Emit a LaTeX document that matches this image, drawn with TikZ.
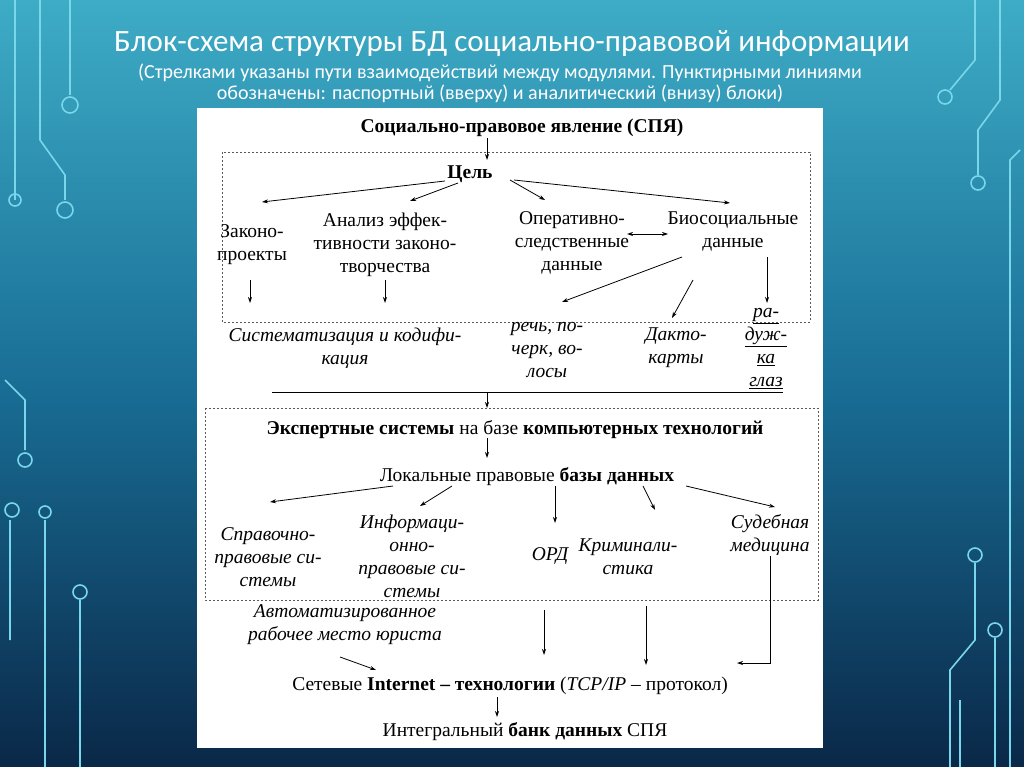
\documentclass[tikz,border=0pt]{standalone}
\usepackage{fontspec}
\setmainfont{Liberation Serif}
\newfontfamily\titlefont{Carlito}
\usetikzlibrary{arrows.meta}
\definecolor{bgtop}{RGB}{62,172,198}
\definecolor{bgmid}{RGB}{25,110,150}
\definecolor{bgbot}{RGB}{10,40,72}
\definecolor{circc}{RGB}{120,215,235}
\begin{document}
\begin{tikzpicture}[x=1pt,y=-1pt,
  txt/.style={font=\fontsize{19.5}{23}\selectfont,align=center,inner sep=0pt},
  itx/.style={txt,font=\fontsize{19.5}{23}\selectfont\itshape},
  arr/.style={-{Stealth[length=6pt,width=4pt]},line width=0.8pt},
  dbox/.style={dash pattern=on 2pt off 2pt,line width=0.6pt,gray!70!black},
  circ/.style={draw=circc,line width=1.6pt}]
\useasboundingbox (0,0) rectangle (1024,767);
\shade[top color=bgtop, bottom color=bgbot, middle color=bgmid] (0,0) rectangle (1024,767);
% circuit decorations
\draw[circ] (15,0)--(15,200) (15,200) circle (6);
\draw[circ] (40,0)--(40,140)--(65,175)--(65,200) (65,210) circle (8);
\draw[circ] (70,0)--(70,95) (70,105) circle (8);
\draw[circ] (5,380)--(25,400)--(25,450) (25,460) circle (7);
\draw[circ] (10,520)--(10,640) (12,510) circle (7);
\draw[circ] (45,520)--(45,767) (45,512) circle (6);
\draw[circ] (80,600)--(80,767) (80,592) circle (7);
\draw[circ] (975,0)--(975,60)--(950,90) (945,97) circle (7);
\draw[circ] (1000,0)--(1000,100)--(978,130)--(978,175) (978,183) circle (7);
\draw[circ] (1020,150)--(1010,160)--(1010,767);
\draw[circ] (975,555) circle (7) (975,563)--(975,640)--(950,670)--(950,767);
\draw[circ] (995,630) circle (7) (995,638)--(995,767);
\draw[circ] (960,700)--(960,767);
% title
\node[text=white,font=\titlefont\fontsize{31}{34}\selectfont] (title) at (512,44) {Блок-схема структуры БД социально-правовой информации};
\node[text=white,font=\titlefont\fontsize{20}{21}\selectfont,align=center] (sub) at (500,83) {(Стрелками указаны пути взаимодействий между модулями. Пунктирными линиями\\обозначены: паспортный (вверху) и аналитический (внизу) блоки)};
% panel
\fill[white] (197,108) rectangle (823,748);
\draw[dbox] (222,152) rectangle (810,322);
\draw[dbox] (205,408) rectangle (818,600);
\node[txt,font=\fontsize{19.5}{23}\selectfont\bfseries] (spya) at (522,128) {Социально-правовое явление (СПЯ)};
\coordinate (spyab) at (487,138);
\node[txt,font=\fontsize{19.5}{23}\selectfont\bfseries] (cel) at (470,174) {Цель};
\draw[arr] (spyab) -- (487,160);
\node[txt] (zak) at (252,245) {Законо-\\проекты};
\node[txt] (anal) at (385,245) {Анализ эффек-\\тивности законо-\\творчества};
\node[txt] (oper) at (572,243) {Оперативно-\\следственные\\данные};
\node[txt] (bio) at (733,232) {Биосоциальные\\данные};
\draw[arr] (445,181) -- (262,202);
\draw[arr] (458,183) -- (410,201);
\draw[arr] (510,180) -- (545,200);
\draw[arr] (514,180) -- (730,203);
\draw[{Stealth[length=6pt,width=4pt]}-{Stealth[length=6pt,width=4pt]},line width=0.8pt] (627,234) -- (668,234);
\draw[arr] (250,280) -- (250,303);
\draw[arr] (385,280) -- (385,303);
\draw[arr] (682,257) -- (562,302);
\draw[arr] (693,280) -- (672,318);
\draw[arr] (767,257) -- (767,303);
\node[itx] (sys) at (345,348) {Систематизация и кодифи-\\кация};
\node[itx] (rech) at (547,350) {речь, по-\\черк, во-\\лосы};
\node[itx] (dakt) at (676,348) {Дакто-\\карты};
\node[itx] (rad) at (766,349) {\underline{ра-}\\\underline{дуж-}\\\underline{ка}\\\underline{глаз}};
\draw[line width=0.8pt] (272,392) -- (783,392);
\coordinate (mid) at (487,392);
\draw[arr] (mid) -- (487,408);
\node[txt] (exp) at (515,430) {\textbf{Экспертные системы} на базе \textbf{компьютерных технологий}};
\draw[arr] (487,438) -- (487,458);
\node[txt] (loc) at (527,477) {Локальные правовые \textbf{базы данных}};
\draw[arr] (393,486) -- (270,502);
\draw[arr] (452,486) -- (420,506);
\draw[arr] (555,486) -- (555,523);
\draw[arr] (643,486) -- (655,510);
\draw[arr] (686,486) -- (775,507);
\node[itx] (spr) at (268,557) {Справочно-\\правовые си-\\стемы};
\node[itx] (inf) at (412,556) {Информаци-\\онно-\\правовые си-\\стемы};
\node[itx] (ord) at (550,556) {ОРД};
\node[itx] (krim) at (628,557) {Криминали-\\стика};
\node[itx] (sud) at (770,535) {Судебная\\медицина};
\node[itx] (arm) at (345,625) {Автоматизированное\\рабочее место юриста};
\node[txt] (net) at (510,686) {Сетевые \textbf{Internet – технологии} (\textit{TCP/IP –} протокол)};
\node[txt] (bank) at (525,732) {Интегральный \textbf{банк данных} СПЯ};
\draw[arr] (544,610) -- (544,655);
\draw[arr] (646,606) -- (646,665);
\draw[arr] (770,556) -- (770,663) -- (737,663);
\draw[arr] (340,657) -- (376,670);
\draw[arr] (497,697) -- (497,717);
\end{tikzpicture}
\end{document}
